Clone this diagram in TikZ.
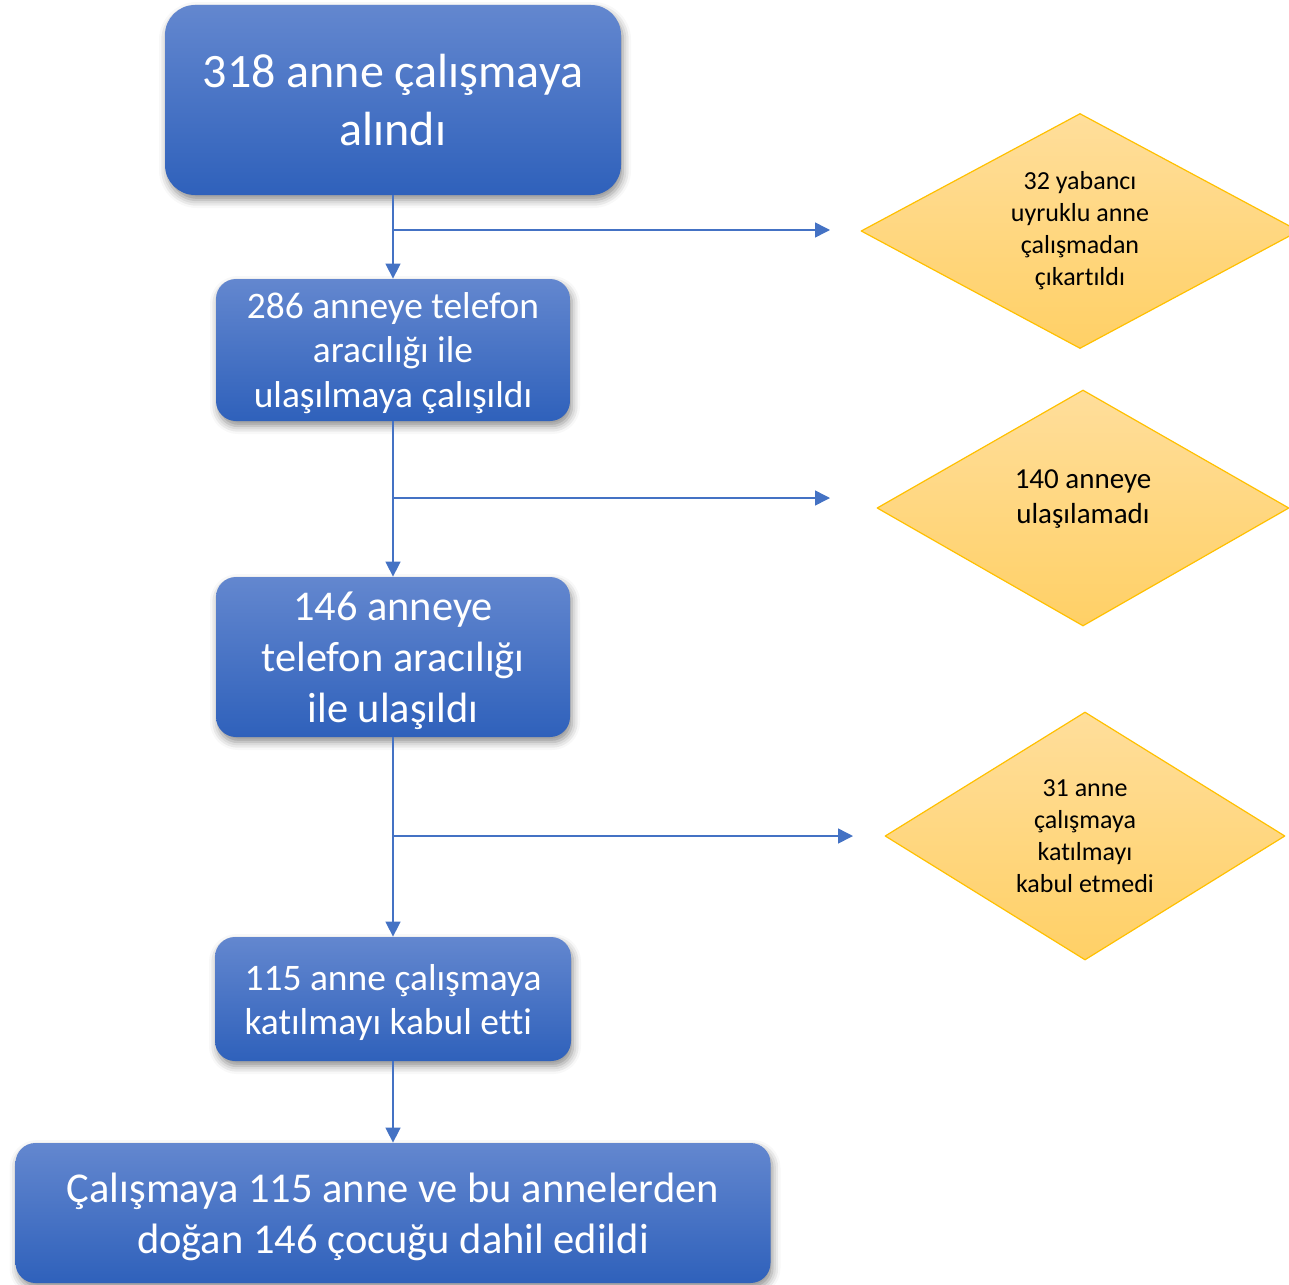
\documentclass[tikz,border=0pt]{standalone}
\usepackage{fontspec}
\setmainfont{Carlito}[Ligatures=NoCommon]
\usetikzlibrary{arrows.meta,shapes.geometric,shadows.blur}

\definecolor{boxtop}{RGB}{99,135,207}
\definecolor{boxbot}{RGB}{47,97,187}
\definecolor{linkblue}{RGB}{68,114,196}
\definecolor{diatop}{RGB}{255,222,155}
\definecolor{diabot}{RGB}{255,208,102}
\definecolor{diaedge}{RGB}{255,192,0}

\begin{document}
\begin{tikzpicture}[x=0.5pt, y=-0.5pt, line join=round,
	stepbox/.style={rectangle, rounded corners=10pt, top color=boxtop, bottom color=boxbot,
		text=white, align=center, inner sep=0pt, text depth=0pt,
		blur shadow={shadow xshift=1pt, shadow yshift=-2.5pt, shadow blur radius=4pt, shadow opacity=45}},
	dropbox/.style={diamond, aspect=1.86, top color=diatop, bottom color=diabot,
		draw=diaedge, line width=0.6pt, align=center, inner sep=0pt,
		font=\fontsize{13}{16}\selectfont},
	flow/.style={-{Triangle[length=7.5pt, width=7.5pt]}, draw=linkblue, line width=0.75pt}]
	% Sayfa sınırları
	\useasboundingbox (0,0) rectangle (1289,1284);
	\clip (0,0) rectangle (1289,1284);
	% Ana kutular
	\node[stepbox, rounded corners=15pt, minimum width=228pt, minimum height=95pt,
		font=\fontsize{24}{29}\selectfont] (box1) at (393,100) {318 anne çalışmaya\\alındı};
	\node[stepbox, minimum width=177pt, minimum height=71pt,
		font=\fontsize{18.7}{22.25}\selectfont] (box2) at (393,350) {286 anneye telefon\\aracılığı ile\\ulaşılmaya çalışıldı};
	\node[stepbox, minimum width=177pt, minimum height=80pt,
		font=\fontsize{21.2}{25.5}\selectfont] (box3) at (393,657) {146 anneye\\telefon aracılığı\\ile ulaşıldı};
	\node[stepbox, align=left, minimum width=178pt, minimum height=62pt,
		font=\fontsize{18.75}{22}\selectfont] (box4) at (393,999) {115 anne çalışmaya\\katılmayı kabul etti};
	\node[stepbox, minimum width=377.5pt, minimum height=70pt,
		font=\fontsize{21.25}{25.5}\selectfont] (box5) at (393,1213) {Çalışmaya 115 anne ve bu annelerden\\doğan 146 çocuğu dahil edildi};
	% Dışlanan anneler
	\node[dropbox, minimum width=219pt, minimum height=117.5pt] (d1) at (1080,231) {32 yabancı\\uyruklu anne\\çalışmadan\\çıkartıldı};
	\node[dropbox, minimum width=206pt, minimum height=118pt, text depth=11pt,
		font=\fontsize{14.5}{17.5}\selectfont] (d2) at (1083,508) {140 anneye\\ulaşılamadı};
	\node[dropbox, minimum width=200pt, minimum height=124pt] (d3) at (1085,836) {31 anne\\çalışmaya\\katılmayı\\kabul etmedi};
	% Dikey akış
	\draw[flow] (box1) -- (box2);
	\draw[flow] (box2) -- (box3);
	\draw[flow] (box3) -- (box4);
	\draw[flow] (box4) -- (box5);
	% Yan dallar
	\coordinate (j1) at (393,230);
	\coordinate (e1) at (830,230);
	\coordinate (j2) at (393,498);
	\coordinate (e2) at (830,498);
	\coordinate (j3) at (393,836);
	\coordinate (e3) at (853,836);
	\draw[flow] (j1) -- (e1);
	\draw[flow] (j2) -- (e2);
	\draw[flow] (j3) -- (e3);
\end{tikzpicture}
\end{document}
